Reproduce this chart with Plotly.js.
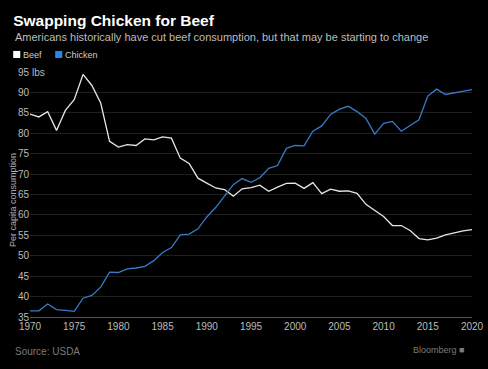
<!DOCTYPE html>
<html>
<head>
<meta charset="utf-8">
<script src="https://cdn.plot.ly/plotly-3.0.1.min.js"></script>
<style>html,body{margin:0;padding:0;background:#000;}#chart{width:488px;height:369px;}</style>
</head>
<body>
<div id="chart"></div>
<script>
const years = [1970,1971,1972,1973,1974,1975,1976,1977,1978,1979,1980,1981,1982,1983,1984,1985,1986,1987,1988,1989,1990,1991,1992,1993,1994,1995,1996,1997,1998,1999,2000,2001,2002,2003,2004,2005,2006,2007,2008,2009,2010,2011,2012,2013,2014,2015,2016,2017,2018,2019,2020];
const beef = [84.7,84.0,85.3,80.7,85.6,88.2,94.4,91.7,87.4,78.0,76.6,77.2,77.0,78.6,78.4,79.1,78.8,73.9,72.6,69.0,67.8,66.6,66.2,64.6,66.4,66.7,67.3,65.8,66.8,67.7,67.8,66.5,67.9,65.2,66.3,65.8,65.9,65.3,62.6,61.2,59.6,57.4,57.4,56.2,54.2,53.9,54.3,55.1,55.6,56.1,56.4];
const chicken = [36.5,36.5,38.2,36.8,36.6,36.4,39.6,40.3,42.3,46.0,45.9,46.8,47.0,47.4,48.8,50.8,52.0,55.1,55.3,56.6,59.5,61.8,64.6,67.4,68.9,68.0,69.1,71.4,72.1,76.3,77.0,76.9,80.5,81.8,84.6,85.9,86.6,85.3,83.6,79.8,82.4,82.9,80.5,81.9,83.3,89.1,90.8,89.5,89.9,90.2,90.7];
const yTicks = [35,40,45,50,55,60,65,70,75,80,85,90,95];
const xTicks = [1970,1975,1980,1985,1990,1995,2000,2005,2010,2015,2020];
const seriesNames = ['Beef','Chicken'];

const font = 'Liberation Sans, Arial, sans-serif';
const data = [
  {x: years, y: beef, name: seriesNames[0], type: 'scatter', mode: 'lines', line: {color: '#e6e6e6', width: 1.3}},
  {x: years, y: chicken, name: seriesNames[1], type: 'scatter', mode: 'lines', line: {color: '#3a7bc6', width: 1.3}}
];
const layout = {
  width: 488, height: 369,
  paper_bgcolor: '#000', plot_bgcolor: '#000',
  margin: {l: 30, r: 16, t: 72, b: 52},
  showlegend: false,
  font: {family: font, color: '#bbbbbb', size: 10},
  xaxis: {range: [1970, 2020], tickvals: xTicks, ticktext: xTicks.map(String), showgrid: false, zeroline: false,
          showline: true, linecolor: '#555', linewidth: 1, ticks: '', tickfont: {size: 10, color: '#bbbbbb'}, fixedrange: true},
  yaxis: {range: [35, 95], tickvals: yTicks, ticktext: yTicks.map(String), showgrid: true, gridcolor: '#1f1f1f', gridwidth: 1,
          zeroline: false, showline: false, ticks: '', tickfont: {size: 10, color: '#bbbbbb'}, ticklabelstandoff: 0, fixedrange: true},
  title: {text: '<b>Swapping Chicken for Beef</b>', x: 0.027, xanchor: 'left', y: 0.958, yanchor: 'top', font: {family: font, size: 15.5, color: '#ffffff'}},
  annotations: [
    {text: 'Americans historically have cut beef consumption, but that may be starting to change', xref: 'paper', yref: 'paper', x: -0.0385, y: 1.143, xanchor: 'left', yanchor: 'middle', showarrow: false, font: {size: 11, color: '#bdbdbd'}},
    {text: 'Beef', xref: 'paper', yref: 'paper', x: -0.02, y: 1.0714, xanchor: 'left', yanchor: 'middle', showarrow: false, font: {size: 9, color: '#cccccc'}},
    {text: 'Chicken', xref: 'paper', yref: 'paper', x: 0.075, y: 1.0714, xanchor: 'left', yanchor: 'middle', showarrow: false, font: {size: 9, color: '#cccccc'}},
    {text: 'lbs', xref: 'paper', yref: 'y', x: 0, y: 95, xanchor: 'left', yanchor: 'middle', showarrow: false, bgcolor: '#000', borderpad: 1, font: {size: 10, color: '#bbbbbb'}},
    {text: 'Per capita consumption', xref: 'paper', yref: 'paper', x: -0.038, y: 0.478, xanchor: 'center', yanchor: 'middle', textangle: -90, showarrow: false, font: {size: 9, color: '#b0b0b0'}},
    {text: 'Source: USDA', xref: 'paper', yref: 'paper', x: -0.0385, y: -0.14, xanchor: 'left', yanchor: 'middle', showarrow: false, font: {size: 10, color: '#7a7a7a'}},
    {text: 'Bloomberg \u25A0', xref: 'paper', yref: 'paper', x: 0.986, y: -0.135, xanchor: 'right', yanchor: 'middle', showarrow: false, font: {size: 9, color: '#7a7a7a'}}
  ],
  shapes: [
    {type: 'rect', xref: 'paper', yref: 'paper', x0: -0.038, x1: -0.022, y0: 1.057, y1: 1.086, fillcolor: '#ffffff', line: {width: 0}},
    {type: 'rect', xref: 'paper', yref: 'paper', x0: 0.057, x1: 0.073, y0: 1.057, y1: 1.086, fillcolor: '#2a86e6', line: {width: 0}}
  ]
};
Plotly.newPlot('chart', data, layout, {displayModeBar: false, staticPlot: true});
</script>
</body>
</html>
